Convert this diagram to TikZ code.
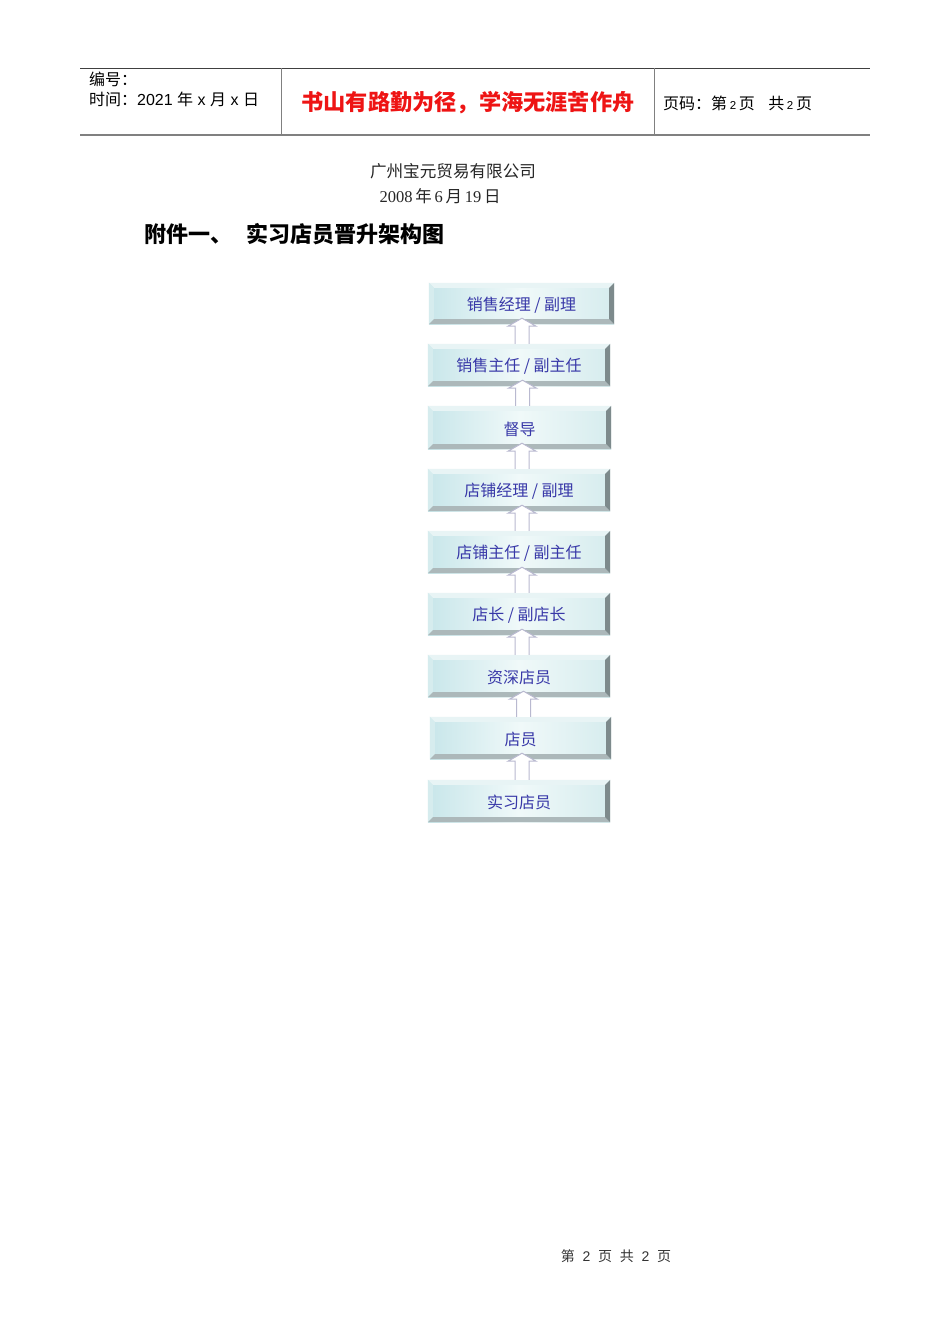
\documentclass[tikz,border=0pt]{standalone}
\usepackage{fontspec}
\setmainfont{Liberation Sans}
\newfontfamily\cjk{Noto Sans CJK SC}
\newfontfamily\serifl{Liberation Serif}
\usetikzlibrary{calc}
\definecolor{boxL}{RGB}{200,230,234}
\definecolor{boxM}{RGB}{240,249,249}
\definecolor{boxR}{RGB}{214,236,238}
\definecolor{bevTop}{RGB}{232,244,245}
\definecolor{bevLeft}{RGB}{214,236,238}
\definecolor{bevBot}{RGB}{172,184,186}
\definecolor{bevRight}{RGB}{125,138,140}
\definecolor{boxtext}{RGB}{56,56,168}
\definecolor{arrowC}{RGB}{185,185,208}
\definecolor{redtext}{RGB}{238,20,20}
\definecolor{rulegray}{RGB}{128,128,128}
\begin{document}
\begin{tikzpicture}[x=1pt,y=-1pt,
  rankbox/.style={minimum width=182pt, minimum height=42pt, inner sep=0pt,
    left color=boxL, right color=boxR, middle color=boxM},
  ranklabel/.style={inner sep=0pt, yshift=-1.5pt, font=\cjk\fontsize{16}{16}\selectfont, text=boxtext},
  uparrow/.style={fill=white, draw=arrowC, line width=1pt, line join=miter},
  hdr/.style={font=\fontsize{16}{16}\selectfont, inner sep=0pt}
]
\fill[white] (0,0) rectangle (950,1344);
\useasboundingbox (0,0) rectangle (950,1344);

% header table
\draw[line width=1pt, black!75] (80,68) -- (870,68);
\draw[line width=2pt, rulegray] (80,135) -- (870,135);
\draw[line width=1pt, rulegray] (281,68) -- (281,135);
\draw[line width=1pt, rulegray] (654,68) -- (654,135);

\node[hdr, anchor=west] (bianhao) at (89,79) {\cjk 编号：};
\node[hdr, anchor=west] (shijian) at (89,99) {{\cjk 时间：}2021\ {\cjk 年}\ x\ {\cjk 月}\ x\ {\cjk 日}};
\node[inner sep=0pt, text=redtext, font=\cjk\bfseries\fontsize{22.2}{23}\selectfont] (motto) at (468,103) {书山有路勤为径，学海无涯苦作舟};
\node[hdr, anchor=west] (yema) at (663,103) {{\cjk 页码：第}\,{\fontsize{11.5}{11.5}\selectfont 2}\,{\cjk 页}\ \ \ {\cjk 共}\,{\fontsize{11.5}{11.5}\selectfont 2}\,{\cjk 页}};

% titles
\node[inner sep=0pt, font=\cjk\fontsize{16.6}{17}\selectfont, text=black!85] (company) at (453,171) {广州宝元贸易有限公司};
\node[inner sep=0pt, font=\serifl\fontsize{16.5}{17}\selectfont, text=black!85] (date) at (440,196) {2008\,{\cjk 年}\,6\,{\cjk 月}\,19\,{\cjk 日}};
\node[inner sep=0pt, anchor=west, font=\cjk\bfseries\fontsize{22}{22}\selectfont] (heading) at (144,234) {附件一、\hspace{14pt}实习店员晋升架构图};

% boxes (shapes only; labels added after bevels)
\node[rankbox, minimum width=185pt, minimum height=41pt] (b1) at (521.5,303.5) {};
\node[rankbox] (b2) at (519,365) {};
\node[rankbox, minimum width=183pt, minimum height=43pt] (b3) at (519.5,427.5) {};
\node[rankbox] (b4) at (519,490) {};
\node[rankbox] (b5) at (519,552) {};
\node[rankbox] (b6) at (519,614) {};
\node[rankbox] (b7) at (519,676) {};
\node[rankbox, minimum width=181pt] (b8) at (520.5,738) {};
\node[rankbox] (b9) at (519,801) {};

% bevels
\foreach \n in {b1,b2,b3,b4,b5,b6,b7,b8,b9}{
  \fill[bevTop] (\n.north west) -- (\n.north east) -- ($(\n.north east)+(-5,5)$) -- ($(\n.north west)+(5,5)$) -- cycle;
  \fill[bevLeft] (\n.north west) -- (\n.south west) -- ($(\n.south west)+(5,-5)$) -- ($(\n.north west)+(5,5)$) -- cycle;
  \fill[bevBot] (\n.south west) -- (\n.south east) -- ($(\n.south east)+(-5,-5)$) -- ($(\n.south west)+(5,-5)$) -- cycle;
  \fill[bevRight] (\n.north east) -- (\n.south east) -- ($(\n.south east)+(-5,-5)$) -- ($(\n.north east)+(-5,5)$) -- cycle;
}
% labels
\node[ranklabel] (l1) at (b1) {销售经理 / 副理};
\node[ranklabel] (l2) at (b2) {销售主任 / 副主任};
\node[ranklabel] (l3) at (b3) {督导};
\node[ranklabel] (l4) at (b4) {店铺经理 / 副理};
\node[ranklabel] (l5) at (b5) {店铺主任 / 副主任};
\node[ranklabel] (l6) at (b6) {店长 / 副店长};
\node[ranklabel] (l7) at (b7) {资深店员};
\node[ranklabel] (l8) at (b8) {店员};
\node[ranklabel] (l9) at (b9) {实习店员};

% arrows (from lower box up to upper box)
\foreach \lo/\up in {b2/b1,b3/b2,b4/b3,b5/b4,b6/b5,b7/b6,b8/b7,b9/b8}{
  \draw[uparrow] let \p1=(\lo.north), \p2=(\up.south) in
    ({\x1-4pt},{\y1}) -- ({\x1-4pt},{\y2-2pt}) -- ({\x1-11pt},{\y2-2pt})
    -- ({\x1+3pt},{\y2+6pt}) -- ({\x1+17pt},{\y2-2pt}) -- ({\x1+10pt},{\y2-2pt})
    -- ({\x1+10pt},{\y1});
}

% footer
\node[inner sep=0pt, font=\fontsize{14}{14}\selectfont, text=black!80] (footer) at (616,1256) {{\cjk 第}\ \ 2\ \ {\cjk 页}\ \ {\cjk 共}\ \ 2\ \ {\cjk 页}};
\end{tikzpicture}
\end{document}
